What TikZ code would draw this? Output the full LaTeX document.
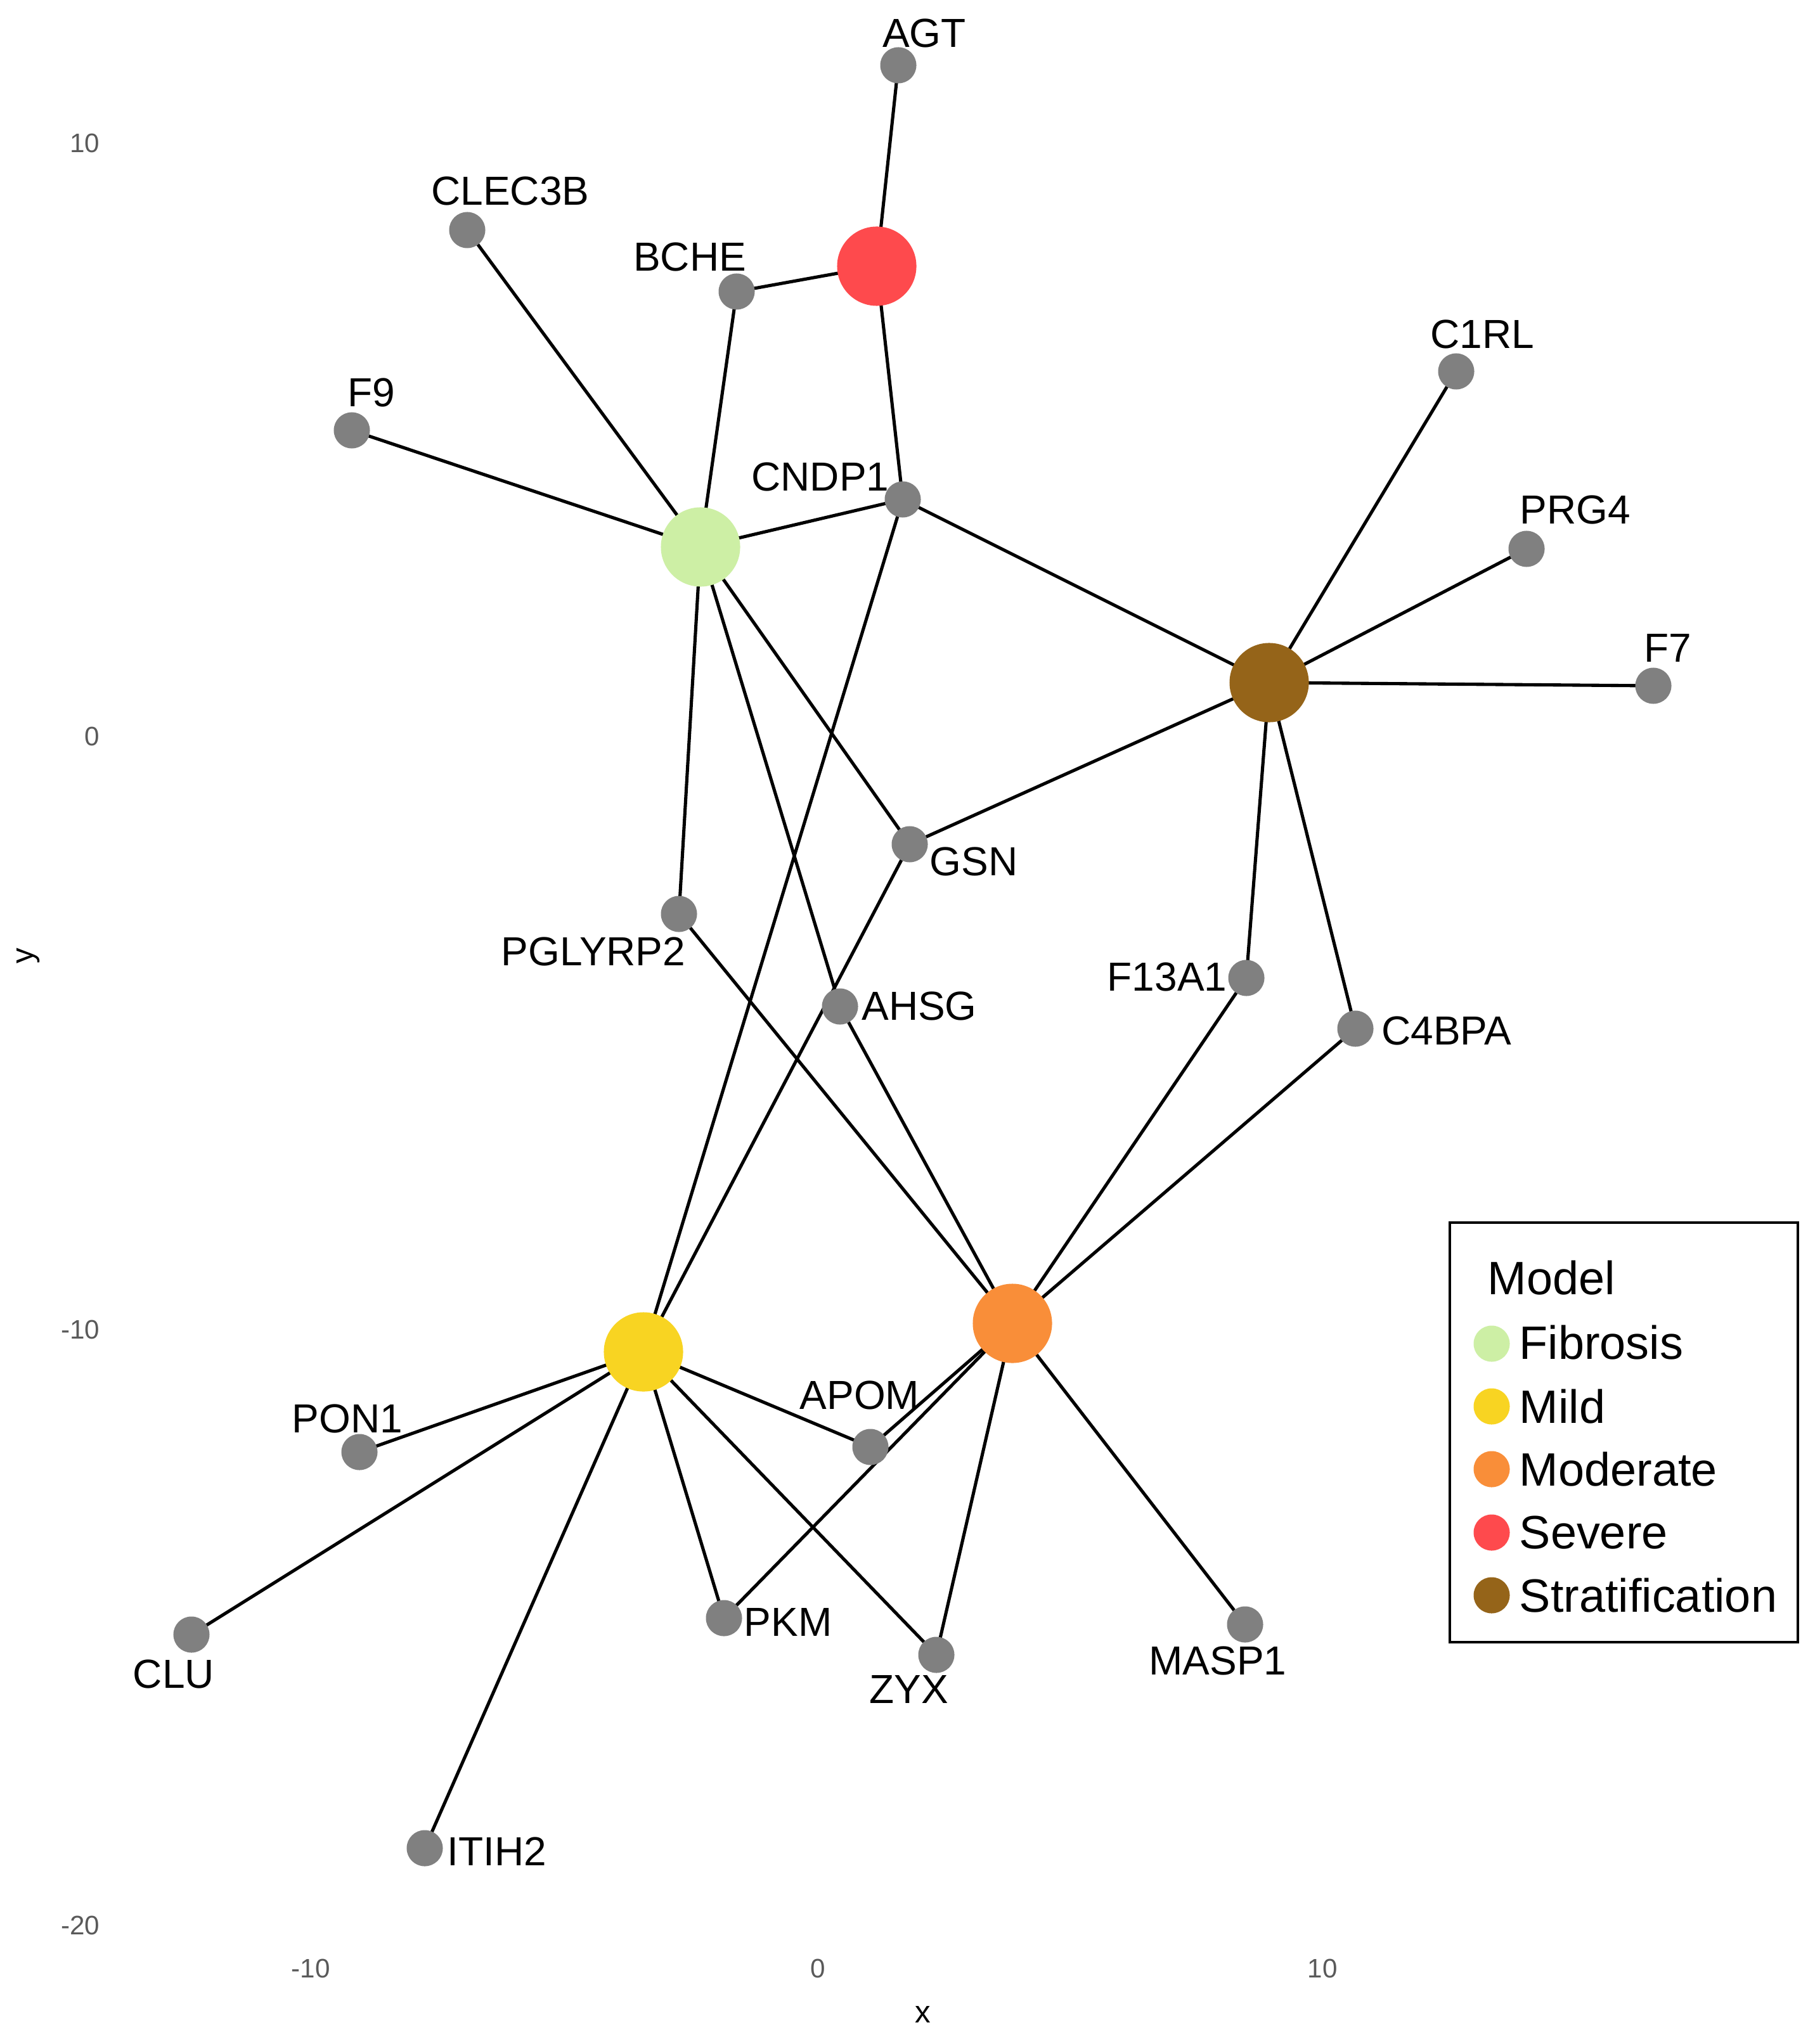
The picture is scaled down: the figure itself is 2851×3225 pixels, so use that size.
\documentclass[tikz,border=0pt]{standalone}
\usepackage{fontspec}
\setmainfont{Liberation Sans}
\usetikzlibrary{backgrounds}
\definecolor{cFib}{HTML}{CDEFA5}
\definecolor{cMild}{HTML}{F8D422}
\definecolor{cMod}{HTML}{F98E39}
\definecolor{cSev}{HTML}{FE4A4D}
\definecolor{cStr}{HTML}{956419}
\definecolor{cProt}{HTML}{808080}
\definecolor{cTick}{HTML}{5A5A5A}
\begin{document}
\begin{tikzpicture}[x=0.01cm,y=-0.01cm,
 model/.style={circle,inner sep=0pt,minimum size=1.25cm,fill=#1},
 prot/.style={circle,inner sep=0pt,minimum size=0.57cm,fill=cProt},
 lab/.style={inner sep=0pt,font=\fontsize{18.2}{20}\selectfont,text=black},
 tick/.style={inner sep=0pt,font=\fontsize{12}{14}\selectfont,text=cTick},
 axtitle/.style={inner sep=0pt,font=\fontsize{14}{16}\selectfont,text=black},
 edge/.style={line width=1.45pt,black},
 legdot/.style={circle,inner sep=0pt,minimum size=0.57cm,fill=#1},
 legtext/.style={inner sep=0pt,anchor=west,font=\fontsize{21}{24}\selectfont}]
\useasboundingbox (0,0) rectangle (2851,3225);

% model nodes
\node[model=cSev] (sev) at (1383,420) {};
\node[model=cFib] (fib) at (1105,863) {};
\node[model=cStr] (str) at (2002,1077) {};
\node[model=cMild] (mild) at (1015,2133) {};
\node[model=cMod] (mod) at (1597,2088) {};

% protein nodes
\node[prot] (agt) at (1417,103) {};
\node[prot] (bche) at (1162,460) {};
\node[prot] (clec) at (737,363) {};
\node[prot] (f9) at (555,679) {};
\node[prot] (cndp) at (1424,788) {};
\node[prot] (c1rl) at (2297,586) {};
\node[prot] (prg) at (2408,866) {};
\node[prot] (f7) at (2608,1082) {};
\node[prot] (gsn) at (1435,1332) {};
\node[prot] (pgly) at (1071,1442) {};
\node[prot] (ahsg) at (1325,1588) {};
\node[prot] (f13) at (1966,1543) {};
\node[prot] (c4b) at (2138,1623) {};
\node[prot] (pon) at (567,2291) {};
\node[prot] (apom) at (1373,2283) {};
\node[prot] (clu) at (302,2579) {};
\node[prot] (pkm) at (1142,2553) {};
\node[prot] (zyx) at (1477,2611) {};
\node[prot] (masp) at (1964,2563) {};
\node[prot] (itih) at (670,2916) {};

% edges
\begin{pgfonlayer}{background}
\fill[white] (0,0) rectangle (2851,3225);
\foreach \p in {agt,bche,cndp} \draw[edge] (sev.center) -- (\p.center);
\foreach \p in {bche,clec,f9,cndp,pgly,gsn,ahsg} \draw[edge] (fib.center) -- (\p.center);
\foreach \p in {cndp,c1rl,prg,f7,gsn,f13,c4b} \draw[edge] (str.center) -- (\p.center);
\foreach \p in {cndp,gsn,pon,clu,itih,pkm,zyx,apom} \draw[edge] (mild.center) -- (\p.center);
\foreach \p in {pgly,ahsg,f13,c4b,apom,pkm,zyx,masp} \draw[edge] (mod.center) -- (\p.center);
\end{pgfonlayer}

% labels
\node[lab] (l-agt) at (1458,52) {AGT};
\node[lab] (l-clec) at (805,301) {CLEC3B};
\node[lab] (l-bche) at (1088,405) {BCHE};
\node[lab] (l-f9) at (586,619) {F9};
\node[lab] (l-cndp) at (1294,752) {CNDP1};
\node[lab] (l-c1rl) at (2338,527) {C1RL};
\node[lab] (l-prg) at (2485,804) {PRG4};
\node[lab] (l-f7) at (2631,1022) {F7};
\node[lab] (l-gsn) at (1536,1359) {GSN};
\node[lab] (l-pgly) at (936,1501) {PGLYRP2};
\node[lab] (l-ahsg) at (1450,1587) {AHSG};
\node[lab] (l-f13) at (1841,1541) {F13A1};
\node[lab] (l-c4b) at (2282,1626) {C4BPA};
\node[lab] (l-pon) at (548,2238) {PON1};
\node[lab] (l-apom) at (1356,2201) {APOM};
\node[lab] (l-clu) at (274,2641) {CLU};
\node[lab] (l-pkm) at (1243,2559) {PKM};
\node[lab] (l-zyx) at (1434,2665) {ZYX};
\node[lab] (l-masp) at (1921,2620) {MASP1};
\node[lab] (l-itih) at (784,2921) {ITIH2};

% axes
\node[tick,anchor=east] (yt1) at (158,226) {10};
\node[tick,anchor=east] (yt2) at (158,1162) {0};
\node[tick,anchor=east] (yt3) at (158,2098) {-10};
\node[tick,anchor=east] (yt4) at (158,3038) {-20};
\node[tick] (xt1) at (490,3106) {-10};
\node[tick] (xt2) at (1290,3106) {0};
\node[tick] (xt3) at (2086,3106) {10};
\node[axtitle] (xlab) at (1456,3178) {x};
\node[axtitle,rotate=90] (ylab) at (45,1508) {y};

% legend
\draw[line width=1.3pt] (2287,1929) rectangle (2836,2591);
\node[legtext] (legtitle) at (2346,2016) {Model};
\node[legdot=cFib] (ld1) at (2353,2120) {};
\node[legdot=cMild] (ld2) at (2353,2219) {};
\node[legdot=cMod] (ld3) at (2353,2318) {};
\node[legdot=cSev] (ld4) at (2353,2418) {};
\node[legdot=cStr] (ld5) at (2353,2517) {};
\node[legtext] (lt1) at (2396,2118) {Fibrosis};
\node[legtext] (lt2) at (2396,2219) {Mild};
\node[legtext] (lt3) at (2396,2318) {Moderate};
\node[legtext] (lt4) at (2396,2418) {Severe};
\node[legtext] (lt5) at (2396,2517) {Stratification};
\end{tikzpicture}
\end{document}
